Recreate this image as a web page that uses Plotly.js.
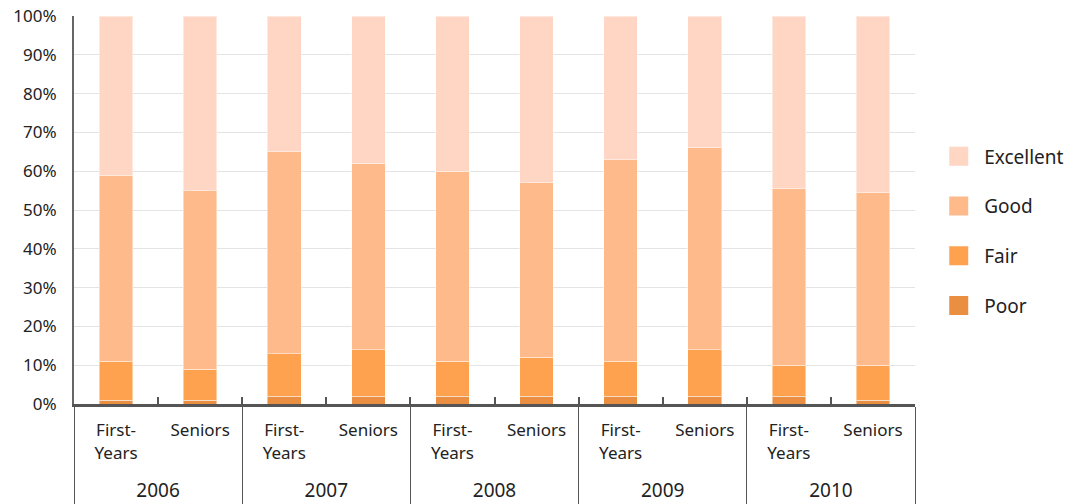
<!DOCTYPE html>
<html>
<head>
<meta charset="utf-8">
<script src="https://cdn.plot.ly/plotly-3.0.1.min.js"></script>
<style>html,body{margin:0;padding:0;background:#fff;}#chart{width:1069px;height:504px;}</style>
</head>
<body>
<div id="chart"></div>
<script>
// Data
const yearLabels = ["2006","2007","2008","2009","2010"];
const groupLabels = ["First-<br>Years","Seniors"];
const years = ["2006","2006","2007","2007","2008","2008","2009","2009","2010","2010"];
const groups = ["First-<br>Years","Seniors","First-<br>Years","Seniors","First-<br>Years","Seniors","First-<br>Years","Seniors","First-<br>Years","Seniors"];
const poor      = [1, 1, 2, 2, 2, 2, 2, 2, 2, 1];
const fair      = [10, 8, 11, 12, 9, 10, 9, 12, 8, 9];
const good      = [48, 46, 52, 48, 49, 45, 52, 52, 45.5, 44.5];
const excellent = [41, 45, 35, 38, 40, 43, 37, 34, 44.5, 45.5];
const seriesNames = ["Poor","Fair","Good","Excellent"];
const seriesValues = [poor, fair, good, excellent];
const colors = ["#EA8E42","#FFA24F","#FFBA8C","#FFD5C3"];

// year labels styled larger and pushed down one line
const yearCat = years.map(y => "<br><span style='font-size:19px'>" + y + "</span>");

const traces = [];
seriesValues.forEach((vals, i) => {
  traces.push({
    type: "bar",
    x: [yearCat, groups],
    y: vals,
    name: seriesNames[i],
    marker: {color: colors[i], line: {color: "rgba(255,255,255,0.45)", width: 1}},
    showlegend: false,
    hoverinfo: "skip"
  });
});
// legend entries (top to bottom: Excellent, Good, Fair, Poor)
[3, 2, 1, 0].forEach(i => {
  traces.push({
    type: "scatter",
    mode: "markers",
    x: [[yearCat[0]],[groups[0]]],
    y: [null],
    name: seriesNames[i],
    legendgroup: seriesNames[i],
    marker: {symbol: "square", size: 16, color: colors[i], line: {color: colors[i], width: 3}},
    showlegend: true
  });
});

const layout = {
  width: 1069, height: 504,
  margin: {l: 74, r: 154, t: 16, b: 100, autoexpand: false},
  paper_bgcolor: "#fff", plot_bgcolor: "#fff",
  barmode: "stack",
  bargap: 0.6,
  font: {family: "Noto Sans, Open Sans, sans-serif", size: 17, color: "#222"},
  showlegend: true,
  legend: {
    xref: "container", yref: "container",
    x: 0.873, xanchor: "left", y: 0.5417, yanchor: "middle",
    traceorder: "grouped", tracegroupgap: 22,
    font: {size: 19, color: "#222"}, itemwidth: 41
  },
  xaxis: {
    type: "multicategory",
    range: [-0.5, 9.5], autorange: false,
    automargin: false,
    showline: true, linecolor: "#555", linewidth: 3,
    ticks: "inside", ticklen: 7, tickcolor: "#555", tickwidth: 2,
    tickson: "boundaries",
    ticklabelstandoff: 9,
    showdividers: true, dividercolor: "#555", dividerwidth: 1,
    tickfont: {size: 17, color: "#222"},
    showgrid: false, zeroline: false
  },
  yaxis: {
    range: [0, 100], dtick: 10, ticksuffix: "%",
    automargin: false,
    showline: true, linecolor: "#666", linewidth: 2,
    gridcolor: "#e4e4e4", gridwidth: 1,
    zeroline: false, ticks: "", ticklabelstandoff: 12,
    tickfont: {size: 17, color: "#222"}
  }
};

Plotly.newPlot("chart", traces, layout, {displayModeBar: false, staticPlot: true});
</script>
</body>
</html>
